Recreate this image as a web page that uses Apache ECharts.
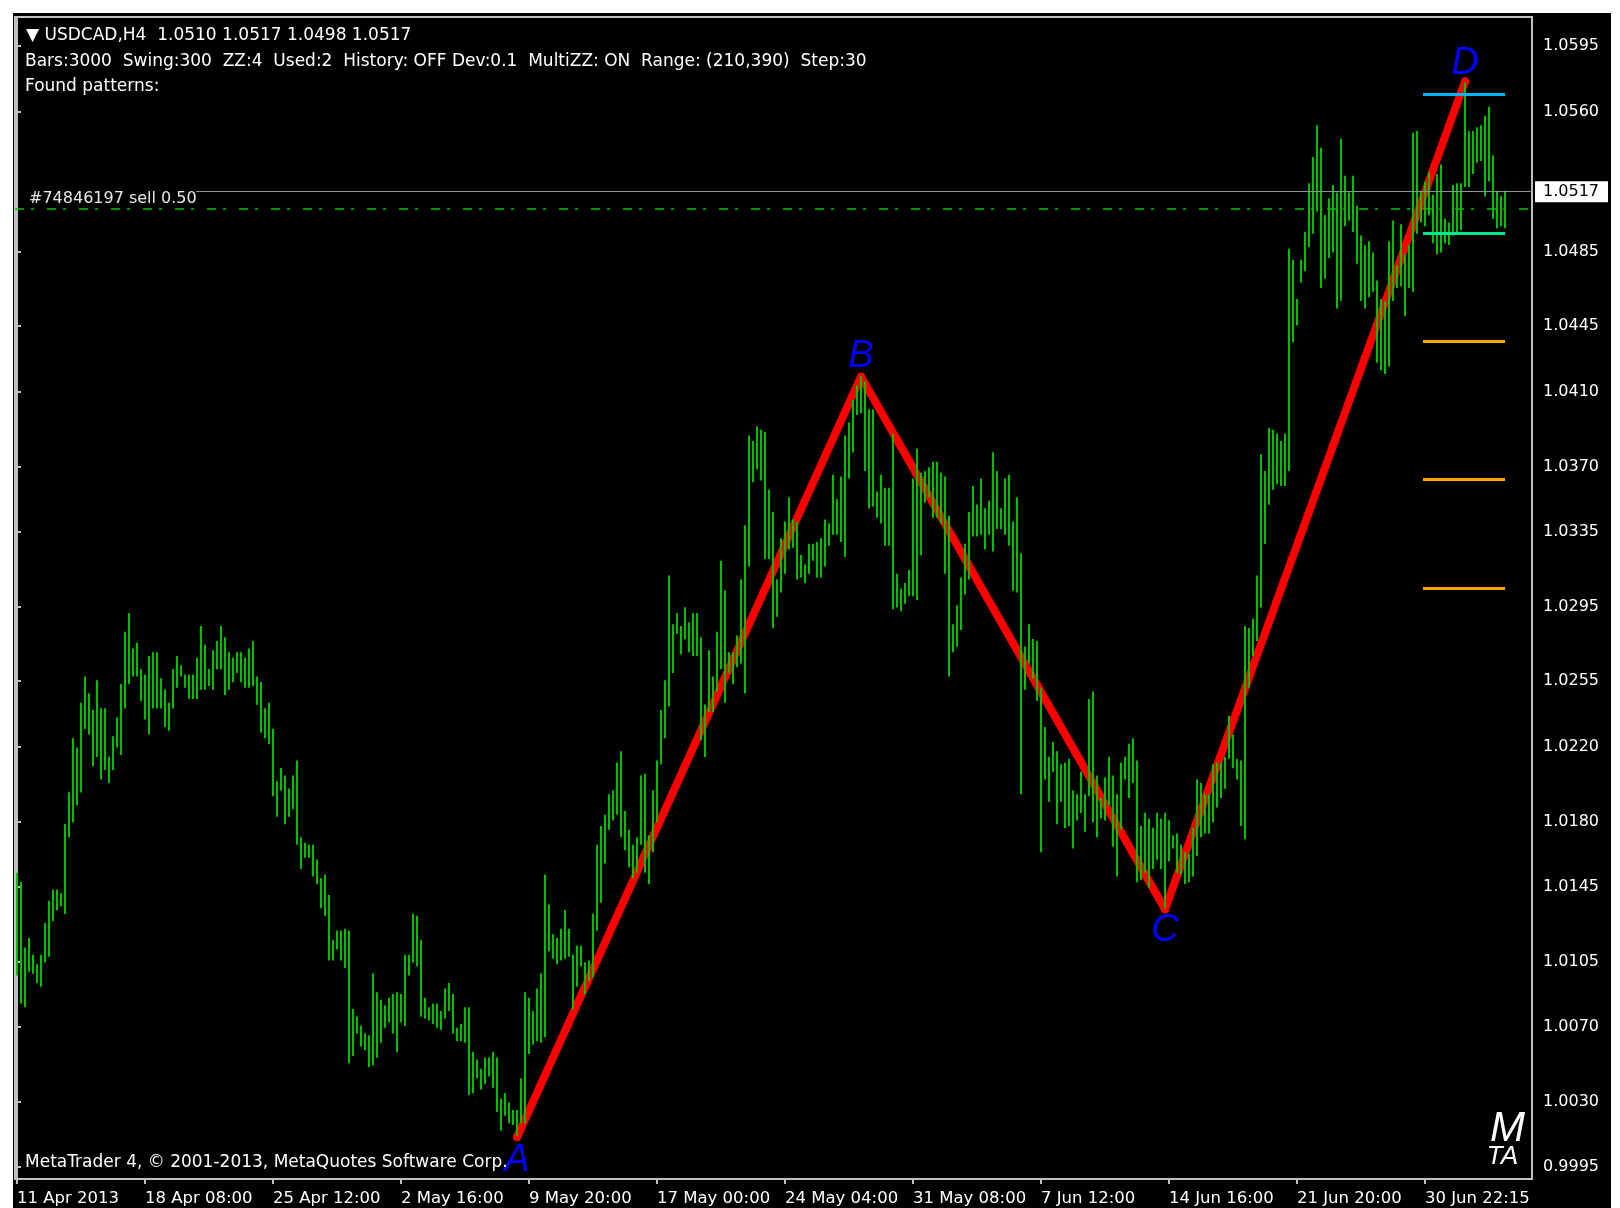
<!DOCTYPE html>
<html>
<head>
<meta charset="utf-8">
<title>USDCAD,H4</title>
<script src="https://cdn.jsdelivr.net/npm/echarts@6.0.0/dist/echarts.min.js"></script>
<style>
  html, body { margin: 0; padding: 0; background: #fff; }
  #chart { position: absolute; left: 13px; top: 13px; width: 1598px; height: 1195px; background: #000; }
</style>
</head>
<body>
<div id="chart"></div>
<script>
// bar-axis labels (every 32 bars)
const timeLabels = ['11 Apr 2013', '18 Apr 08:00', '25 Apr 12:00', '2 May 16:00', '9 May 20:00',
  '17 May 00:00', '24 May 04:00', '31 May 08:00', '7 Jun 12:00', '14 Jun 16:00', '21 Jun 20:00', '30 Jun 22:15'];
const labelBars = [0, 32, 64, 96, 128, 160, 192, 224, 256, 288, 320, 352];

// price scale labels
const priceTicks = [0.9995, 1.0030, 1.0070, 1.0105, 1.0145, 1.0180, 1.0220, 1.0255, 1.0295,
  1.0335, 1.0370, 1.0410, 1.0445, 1.0485, 1.0560, 1.0595];

// H4 bars, high / low
const highs = [
  1.0152, 1.0147, 1.0112, 1.0117, 1.0108, 1.0103, 1.0108, 1.0125, 1.0137, 1.0143,
  1.0143, 1.0141, 1.0178, 1.0195, 1.0224, 1.0219, 1.0243, 1.0257, 1.0248, 1.0239,
  1.0255, 1.0240, 1.0240, 1.0214, 1.0225, 1.0235, 1.0253, 1.0281, 1.0291, 1.0272,
  1.0275, 1.0261, 1.0258, 1.0268, 1.0270, 1.0270, 1.0256, 1.0250, 1.0243, 1.0261,
  1.0268, 1.0263, 1.0258, 1.0258, 1.0258, 1.0267, 1.0284, 1.0274, 1.0261, 1.0271,
  1.0276, 1.0284, 1.0278, 1.0270, 1.0267, 1.0270, 1.0270, 1.0267, 1.0272, 1.0276,
  1.0257, 1.0254, 1.0240, 1.0243, 1.0229, 1.0201, 1.0208, 1.0204, 1.0197, 1.0204,
  1.0212, 1.0171, 1.0168, 1.0167, 1.0167, 1.0159, 1.0149, 1.0151, 1.0140, 1.0116,
  1.0121, 1.0121, 1.0122, 1.0121, 1.0079, 1.0075, 1.0070, 1.0066, 1.0065, 1.0098,
  1.0088, 1.0084, 1.0081, 1.0085, 1.0087, 1.0088, 1.0087, 1.0108, 1.0108, 1.0130,
  1.0129, 1.0116, 1.0085, 1.0080, 1.0082, 1.0082, 1.0078, 1.0090, 1.0093, 1.0087,
  1.0069, 1.0071, 1.0080, 1.0080, 1.0056, 1.0052, 1.0047, 1.0053, 1.0053, 1.0056,
  1.0053, 1.0031, 1.0034, 1.0029, 1.0025, 1.0025, 1.0042, 1.0088, 1.0085, 1.0078,
  1.0090, 1.0098, 1.0151, 1.0135, 1.0119, 1.0117, 1.0122, 1.0132, 1.0122, 1.0108,
  1.0113, 1.0113, 1.0104, 1.0105, 1.0130, 1.0167, 1.0177, 1.0183, 1.0194, 1.0196,
  1.0211, 1.0217, 1.0185, 1.0175, 1.0167, 1.0171, 1.0204, 1.0205, 1.0172, 1.0196,
  1.0212, 1.0239, 1.0255, 1.0311, 1.0285, 1.0291, 1.0284, 1.0294, 1.0286, 1.0291,
  1.0291, 1.0278, 1.0242, 1.0271, 1.0257, 1.0281, 1.0319, 1.0303, 1.0270, 1.0270,
  1.0279, 1.0309, 1.0338, 1.0386, 1.0383, 1.0391, 1.0389, 1.0388, 1.0357, 1.0345,
  1.0309, 1.0331, 1.0340, 1.0353, 1.0341, 1.0340, 1.0322, 1.0317, 1.0328, 1.0328,
  1.0329, 1.0331, 1.0341, 1.0339, 1.0365, 1.0352, 1.0364, 1.0386, 1.0393, 1.0405,
  1.0413, 1.0418, 1.0415, 1.0400, 1.0400, 1.0356, 1.0365, 1.0358, 1.0358, 1.0387,
  1.0312, 1.0304, 1.0307, 1.0314, 1.0363, 1.0379, 1.0366, 1.0367, 1.0369, 1.0372,
  1.0372, 1.0366, 1.0364, 1.0343, 1.0285, 1.0295, 1.0310, 1.0328, 1.0345, 1.0359,
  1.0349, 1.0363, 1.0347, 1.0351, 1.0377, 1.0367, 1.0347, 1.0363, 1.0365, 1.0340,
  1.0353, 1.0323, 1.0273, 1.0285, 1.0277, 1.0276, 1.0251, 1.0230, 1.0214, 1.0222,
  1.0217, 1.0210, 1.0211, 1.0213, 1.0196, 1.0194, 1.0206, 1.0194, 1.0245, 1.0249,
  1.0204, 1.0192, 1.0203, 1.0214, 1.0204, 1.0194, 1.0211, 1.0214, 1.0221, 1.0224,
  1.0212, 1.0177, 1.0184, 1.0181, 1.0176, 1.0184, 1.0181, 1.0184, 1.0180, 1.0172,
  1.0173, 1.0167, 1.0163, 1.0162, 1.0176, 1.0202, 1.0200, 1.0194, 1.0194, 1.0210,
  1.0211, 1.0211, 1.0214, 1.0236, 1.0226, 1.0213, 1.0212, 1.0284, 1.0283, 1.0288,
  1.0311, 1.0376, 1.0367, 1.0390, 1.0389, 1.0387, 1.0383, 1.0387, 1.0486, 1.0480,
  1.0459, 1.0480, 1.0495, 1.0521, 1.0535, 1.0552, 1.0540, 1.0504, 1.0513, 1.0520,
  1.0516, 1.0545, 1.0525, 1.0516, 1.0525, 1.0509, 1.0493, 1.0488, 1.0490, 1.0484,
  1.0469, 1.0459, 1.0458, 1.0490, 1.0501, 1.0477, 1.0499, 1.0483, 1.0488, 1.0548,
  1.0549, 1.0517, 1.0522, 1.0527, 1.0515, 1.0526, 1.0531, 1.0502, 1.0500, 1.0520,
  1.0521, 1.0521, 1.0575, 1.0549, 1.0549, 1.0551, 1.0552, 1.0557, 1.0562, 1.0536,
  1.0517, 1.0514, 1.0517
];
const lows = [
  1.0098, 1.0083, 1.0081, 1.0100, 1.0099, 1.0094, 1.0092, 1.0105, 1.0108, 1.0127,
  1.0133, 1.0135, 1.0131, 1.0172, 1.0180, 1.0189, 1.0196, 1.0230, 1.0227, 1.0210,
  1.0215, 1.0203, 1.0208, 1.0201, 1.0208, 1.0220, 1.0216, 1.0241, 1.0254, 1.0258,
  1.0258, 1.0245, 1.0235, 1.0227, 1.0241, 1.0241, 1.0241, 1.0231, 1.0229, 1.0241,
  1.0252, 1.0258, 1.0252, 1.0246, 1.0246, 1.0246, 1.0251, 1.0251, 1.0253, 1.0251,
  1.0262, 1.0262, 1.0248, 1.0251, 1.0255, 1.0260, 1.0255, 1.0252, 1.0252, 1.0253,
  1.0243, 1.0228, 1.0225, 1.0222, 1.0194, 1.0183, 1.0197, 1.0179, 1.0183, 1.0187,
  1.0168, 1.0155, 1.0161, 1.0161, 1.0151, 1.0147, 1.0134, 1.0130, 1.0106, 1.0106,
  1.0112, 1.0106, 1.0102, 1.0051, 1.0055, 1.0067, 1.0060, 1.0058, 1.0049, 1.0050,
  1.0054, 1.0062, 1.0070, 1.0073, 1.0067, 1.0057, 1.0073, 1.0071, 1.0098, 1.0105,
  1.0103, 1.0076, 1.0075, 1.0074, 1.0072, 1.0070, 1.0069, 1.0075, 1.0079, 1.0067,
  1.0063, 1.0063, 1.0062, 1.0034, 1.0035, 1.0043, 1.0037, 1.0040, 1.0044, 1.0038,
  1.0025, 1.0015, 1.0023, 1.0019, 1.0018, 1.0012, 1.0019, 1.0019, 1.0056, 1.0061,
  1.0063, 1.0062, 1.0065, 1.0111, 1.0107, 1.0104, 1.0106, 1.0107, 1.0108, 1.0080,
  1.0092, 1.0103, 1.0088, 1.0095, 1.0097, 1.0122, 1.0137, 1.0158, 1.0176, 1.0181,
  1.0184, 1.0172, 1.0165, 1.0156, 1.0150, 1.0153, 1.0168, 1.0153, 1.0147, 1.0164,
  1.0180, 1.0211, 1.0225, 1.0242, 1.0260, 1.0281, 1.0270, 1.0278, 1.0271, 1.0269,
  1.0269, 1.0224, 1.0215, 1.0239, 1.0239, 1.0250, 1.0262, 1.0244, 1.0260, 1.0254,
  1.0263, 1.0265, 1.0249, 1.0317, 1.0362, 1.0369, 1.0363, 1.0321, 1.0321, 1.0284,
  1.0290, 1.0303, 1.0313, 1.0326, 1.0327, 1.0310, 1.0311, 1.0308, 1.0313, 1.0320,
  1.0311, 1.0311, 1.0317, 1.0328, 1.0334, 1.0334, 1.0330, 1.0322, 1.0364, 1.0378,
  1.0398, 1.0399, 1.0368, 1.0348, 1.0349, 1.0343, 1.0340, 1.0328, 1.0328, 1.0294,
  1.0295, 1.0293, 1.0297, 1.0301, 1.0301, 1.0299, 1.0323, 1.0351, 1.0354, 1.0343,
  1.0343, 1.0340, 1.0313, 1.0258, 1.0271, 1.0274, 1.0283, 1.0302, 1.0310, 1.0333,
  1.0333, 1.0334, 1.0326, 1.0334, 1.0325, 1.0337, 1.0337, 1.0334, 1.0328, 1.0304,
  1.0303, 1.0195, 1.0251, 1.0265, 1.0257, 1.0245, 1.0164, 1.0203, 1.0191, 1.0207,
  1.0179, 1.0191, 1.0177, 1.0178, 1.0166, 1.0181, 1.0185, 1.0175, 1.0194, 1.0180,
  1.0172, 1.0182, 1.0181, 1.0189, 1.0167, 1.0151, 1.0176, 1.0203, 1.0193, 1.0201,
  1.0148, 1.0149, 1.0153, 1.0145, 1.0155, 1.0160, 1.0155, 1.0134, 1.0159, 1.0166,
  1.0153, 1.0152, 1.0147, 1.0148, 1.0151, 1.0162, 1.0172, 1.0174, 1.0174, 1.0180,
  1.0188, 1.0193, 1.0198, 1.0214, 1.0209, 1.0203, 1.0178, 1.0171, 1.0252, 1.0269,
  1.0277, 1.0295, 1.0329, 1.0350, 1.0358, 1.0361, 1.0360, 1.0360, 1.0368, 1.0437,
  1.0446, 1.0469, 1.0475, 1.0488, 1.0495, 1.0507, 1.0466, 1.0471, 1.0482, 1.0485,
  1.0455, 1.0459, 1.0499, 1.0502, 1.0496, 1.0479, 1.0459, 1.0455, 1.0461, 1.0464,
  1.0426, 1.0422, 1.0420, 1.0424, 1.0459, 1.0466, 1.0467, 1.0451, 1.0466, 1.0464,
  1.0495, 1.0501, 1.0499, 1.0505, 1.0490, 1.0484, 1.0485, 1.0490, 1.0489, 1.0494,
  1.0496, 1.0497, 1.0520, 1.0520, 1.0527, 1.0533, 1.0534, 1.0515, 1.0523, 1.0503,
  1.0498, 1.0499, 1.0498
];

// ABCD pattern (zigzag pivots)
const zzNames = ['A', 'B', 'C', 'D'];
const zzBars = [125, 211, 287, 362];
const zzPrices = [1.0011, 1.0418, 1.0133, 1.0576];

// projection levels drawn at the right
const levelPrices = [1.0569, 1.0495, 1.0437, 1.0363, 1.0305];
const levelFrom = 351.5;
const levelTo = 372;

const bidPrice = 1.0517;
const orderPrice = 1.0508;

const FONT = '"DejaVu Sans", sans-serif';
const barColor = '#00c000';
const levelColors = ['#00b4f0', '#00e890', '#ffa500', '#ffa500', '#ffa500'];
const labelDist = [0, -3, -2, -5];

const chart = echarts.init(document.getElementById('chart'));

const levelLines = levelPrices.map((p, k) => [
  { coord: [levelFrom, p], lineStyle: { color: levelColors[k], width: 3, type: 'solid' } },
  { coord: [levelTo, p] }
]);

chart.setOption({
  animation: false,
  backgroundColor: 'transparent',
  grid: {
    left: 2, right: 79, top: 4, bottom: 29,
    show: true,
    backgroundColor: '#000',
    borderColor: '#c0c0c0',
    borderWidth: 2
  },
  xAxis: {
    type: 'value',
    min: -0.5,
    max: 378.75,
    splitLine: { show: false },
    axisLine: { show: true, onZero: false, lineStyle: { color: '#c0c0c0', width: 2 } },
    axisTick: { show: true, customValues: labelBars, length: 5, lineStyle: { color: '#c0c0c0', width: 2 } },
    axisLabel: {
      customValues: labelBars,
      formatter: (v) => timeLabels[labelBars.indexOf(v)] || '',
      align: 'left',
      color: '#ffffff',
      fontFamily: FONT,
      fontSize: 16.5,
      margin: 11
    }
  },
  yAxis: {
    type: 'value',
    position: 'right',
    min: 0.998857,
    max: 1.061052,
    splitLine: { show: false },
    axisLine: { show: true, lineStyle: { color: '#c0c0c0', width: 2 } },
    axisTick: { show: true, customValues: priceTicks, length: 4, lineStyle: { color: '#c0c0c0', width: 2 } },
    axisLabel: {
      customValues: priceTicks,
      formatter: (v) => v.toFixed(4),
      align: 'left',
      color: '#ffffff',
      fontFamily: FONT,
      fontSize: 16,
      margin: 11
    }
  },
  graphic: [
    { type: 'text', x: 13, y: 23, style: { text: '▼ USDCAD,H4  1.0510 1.0517 1.0498 1.0517', fill: '#fff', font: '17px ' + FONT, verticalAlign: 'middle' } },
    { type: 'text', x: 12, y: 49, style: { text: 'Bars:3000  Swing:300  ZZ:4  Used:2  History: OFF Dev:0.1  MultiZZ: ON  Range: (210,390)  Step:30', fill: '#fff', font: '17px ' + FONT, verticalAlign: 'middle' } },
    { type: 'text', x: 12, y: 74, style: { text: 'Found patterns:', fill: '#fff', font: '17px ' + FONT, verticalAlign: 'middle' } },
    { type: 'text', x: 16, y: 186, z: 10, style: { text: '#74846197 sell 0.50', fill: '#e8e8e8', font: '16px ' + FONT, verticalAlign: 'middle' } },
    { type: 'text', x: 12, y: 1150, z: 10, style: { text: 'MetaTrader 4, © 2001-2013, MetaQuotes Software Corp.', fill: '#fff', font: '17px ' + FONT, verticalAlign: 'middle' } },
    { type: 'text', x: 1512, y: 1116, z: 10, style: { text: 'M', fill: '#fff', font: 'italic 42px "Liberation Sans Narrow", "Liberation Sans", sans-serif', align: 'right', verticalAlign: 'middle' } },
    { type: 'text', x: 1505, y: 1144, z: 10, style: { text: 'TA', fill: '#fff', font: 'italic 26px "Liberation Sans Narrow", "Liberation Sans", sans-serif', align: 'right', verticalAlign: 'middle' } }
  ],
  series: [
    {
      // order line and bid line
      type: 'line',
      data: [],
      z: 1,
      markLine: {
        silent: true,
        symbol: 'none',
        animation: false,
        precision: 4,
        data: [
          [
            { coord: [-0.5, orderPrice], label: { show: false }, lineStyle: { color: '#00c000', width: 1.5, type: [9, 7, 3, 13] } },
            { coord: [378.75, orderPrice] }
          ],
          [
            { coord: [44.75, bidPrice], lineStyle: { color: '#8c96a0', width: 1, type: 'solid' },
              label: {
                show: true, position: 'end', distance: 3,
                formatter: bidPrice.toFixed(4),
                color: '#000', backgroundColor: '#fff',
                fontFamily: FONT, fontSize: 16,
                padding: [3, 9, 2, 8]
              } },
            { coord: [378.75, bidPrice] }
          ]
        ]
      }
    },
    {
      // ABCD zigzag
      type: 'line',
      z: 2,
      data: zzBars.map((b, k) => ({
        value: [b, zzPrices[k]],
        name: zzNames[k],
        label: { position: k % 2 === 0 ? 'bottom' : 'top', distance: labelDist[k] }
      })),
      symbol: 'circle',
      symbolSize: 8,
      itemStyle: { color: '#ff0000' },
      lineStyle: { color: '#ff0000', width: 8, join: 'round', cap: 'round' },
      label: {
        show: true,
        formatter: (p) => p.name,
        color: '#0000ff',
        fontFamily: '"Liberation Sans", Arial, sans-serif',
        fontStyle: 'italic',
        fontSize: 38
      }
    },
    {
      // OHLC bars drawn as high-low strokes
      type: 'custom',
      z: 3,
      clip: true,
      data: highs.map((h, i) => [i, h, lows[i]]),
      encode: { x: 0, y: [1, 2] },
      renderItem: (params, api) => {
        const top = api.coord([api.value(0), api.value(1)]);
        const bot = api.coord([api.value(0), api.value(2)]);
        return {
          type: 'line',
          shape: { x1: top[0], y1: top[1] - 1, x2: bot[0], y2: bot[1] + 1 },
          style: { stroke: barColor, lineWidth: 2 }
        };
      }
    },
    {
      // pattern target levels
      type: 'line',
      data: [],
      z: 4,
      markLine: {
        silent: true,
        symbol: 'none',
        animation: false,
        precision: 4,
        label: { show: false },
        data: levelLines
      }
    }
  ]
});
</script>
</body>
</html>
